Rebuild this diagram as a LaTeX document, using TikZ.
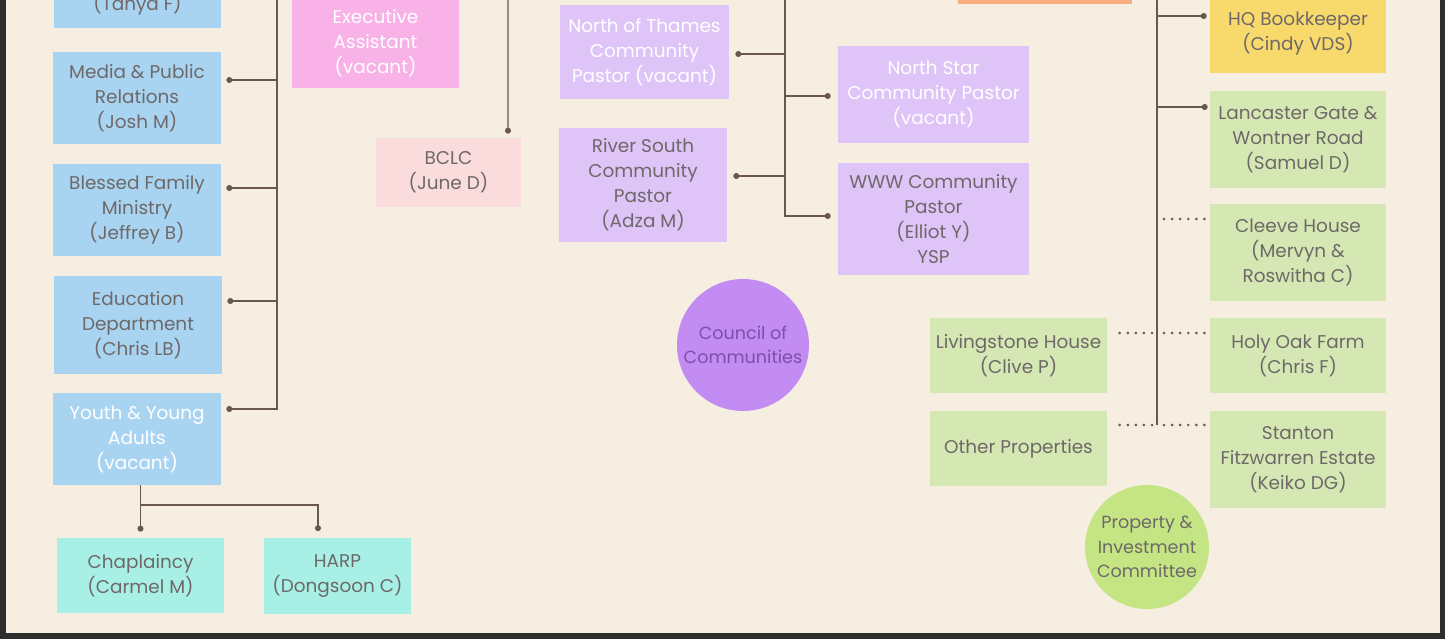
\documentclass[tikz,border=0pt]{standalone}
\usepackage{fontspec}
\setmainfont{Poppins}
\usepackage{xcolor}
\usepackage{tikz}
\usetikzlibrary{arrows.meta,positioning,calc}

\definecolor{cream}{HTML}{F5EEE1}
\definecolor{frame}{HTML}{2E2E2E}
\definecolor{skyblue}{HTML}{A9D4F1}
\definecolor{aqua}{HTML}{A8F0E6}
\definecolor{pinkexec}{HTML}{F8B2E7}
\definecolor{blush}{HTML}{FADCDC}
\definecolor{lavender}{HTML}{DFC4F8}
\definecolor{violet}{HTML}{C38CF2}
\definecolor{peach}{HTML}{F8AE80}
\definecolor{sunny}{HTML}{F8D96C}
\definecolor{sage}{HTML}{D5E8B3}
\definecolor{lime}{HTML}{C5E585}
\definecolor{wirebrown}{HTML}{6A584F}
\definecolor{txtgray}{HTML}{6E6868}
\definecolor{plum}{HTML}{7E4DAA}

\tikzset{
  box/.style={rectangle, inner sep=0pt, align=center, text=txtgray,
    font=\fontsize{10.5}{14.2}\selectfont},
  dept/.style={box, fill=skyblue, minimum width=3.36cm, minimum height=1.84cm},
  care/.style={box, fill=aqua, minimum width=3.34cm, minimum height=1.5cm},
  pastor/.style={box, fill=lavender},
  estate/.style={box, fill=sage, minimum width=3.52cm},
  council/.style={circle, inner sep=0pt, align=center,
    font=\fontsize{10}{14}\selectfont},
  wire/.style={draw=wirebrown, line width=0.8pt, -{Circle[length=3.4pt]}},
  plain/.style={draw=wirebrown, line width=0.8pt},
  dots/.style={draw=wirebrown, line width=1.7pt, line cap=round,
    dash pattern=on 0pt off 4.6pt},
}

\begin{document}
\begin{tikzpicture}[x = 0.02cm, y = -0.02cm]
\useasboundingbox (0,0) rectangle (1445,639);
\fill[frame] (0,0) rectangle (1445,639);
\fill[cream] (6,0) rectangle (1440,633);
\clip (6,0) rectangle (1440,633);

% left column
\node[dept, minimum height=0.96cm] (tanya) at (137.5,4) {(Tanya F)};
\node[dept] (media) at (137,98) {Media \& Public\\Relations\\(Josh M)};
\node[dept] (blessed) at (137,210) {Blessed Family\\Ministry\\(Jeffrey B)};
\node[dept, minimum height=1.96cm] (education) at (138,325) {Education\\Department\\(Chris LB)};
\node[dept, text=white] (youth) at (137,439) {Youth \& Young\\Adults\\(vacant)};
\node[care] (chap) at (140.5,575.5) {Chaplaincy\\(Carmel M)};
\node[care, minimum width=2.94cm, minimum height=1.54cm] (harp) at (337.5,576) {HARP\\(Dongsoon C)};

% office
\node[box, fill=pinkexec, minimum width=3.34cm, minimum height=1.8cm, text=white] (exec) at (375.5,43) {Executive\\Assistant\\(vacant)};
\node[box, fill=blush, minimum width=2.9cm, minimum height=1.38cm] (bclc) at (448.5,172.5) {BCLC\\(June D)};
\node[box, fill=peach, minimum width=3.48cm, minimum height=0.88cm] (office) at (1045,-18) {};

% communities
\node[pastor, minimum width=3.38cm, minimum height=1.88cm, text=white] (nothames) at (644.5,52) {North of Thames\\Community\\Pastor (vacant)};
\node[pastor, minimum width=3.36cm, minimum height=2.28cm] (riversouth) at (643,185) {River South\\Community\\Pastor\\(Adza M)};
\node[pastor, minimum width=3.82cm, minimum height=1.94cm, text=white] (northstar) at (933.5,94.5) {North Star\\Community Pastor\\(vacant)};
\node[pastor, minimum width=3.82cm, minimum height=2.24cm] (www) at (933.5,219) {WWW Community\\Pastor\\(Elliot Y)\\YSP};
\node[council, fill=violet, text=plum, minimum size=2.64cm] (council) at (743,345) {Council of\\Communities};

% properties
\node[box, fill=sunny, minimum width=3.52cm, minimum height=1.56cm] (hq) at (1298,34) {HQ Bookkeeper\\(Cindy VDS)};
\node[estate, minimum height=1.94cm] (lancaster) at (1298,139.5) {Lancaster Gate \&\\Wontner Road\\(Samuel D)};
\node[estate, minimum height=1.94cm] (cleeve) at (1298,252.5) {Cleeve House\\(Mervyn \&\\Roswitha C)};
\node[estate, minimum height=1.5cm] (holyoak) at (1298,355.5) {Holy Oak Farm\\(Chris F)};
\node[estate, minimum width=3.54cm, minimum height=1.5cm] (livingstone) at (1018.5,355.5) {Livingstone House\\(Clive P)};
\node[estate, minimum width=3.54cm, minimum height=1.5cm] (other) at (1018.5,448.5) {Other Properties};
\node[estate, minimum height=1.94cm] (stanton) at (1298,459.5) {Stanton\\Fitzwarren Estate\\(Keiko DG)};
\node[council, fill=lime, text=txtgray, minimum size=2.48cm] (property) at (1147,547) {Property \&\\Investment\\Committee};

% links, left column
\coordinate (ltop) at (277,-5);
\path ([shift={(5,-18)}]media.east) coordinate (mediapin)
      ([shift={(5,-22)}]blessed.east) coordinate (blessedpin)
      ([shift={(5,-24)}]education.east) coordinate (educationpin)
      ([shift={(5,-30)}]youth.east) coordinate (youthpin);
\draw[wire] (ltop) |- (youthpin);
\foreach \b in {media, blessed, education}
  \draw[wire] (ltop |- \b pin) -- (\b pin);
\path ([shift={(0,-6)}]chap.north) coordinate (chappin)
      ([shift={(-19.5,-6)}]harp.north) coordinate (harppin);
\draw[wire] (youth.south -| chappin) -- (chappin);
\draw[wire] ($(youth.south -| chappin)!0.42!(chappin)$) -| (harppin);

% links, office
\coordinate (btop) at (508,-5);
\draw[wire] (btop) -- ([shift={(59.5,-4)}]bclc.north);

% links, communities
\coordinate (ctop) at (785,-5);
\path ([shift={(6,2)}]nothames.east) coordinate (nothamespin)
      ([shift={(6,-9)}]riversouth.east) coordinate (riversouthpin)
      ([shift={(-7,1.5)}]northstar.west) coordinate (northstarpin)
      ([shift={(-7,-3)}]www.west) coordinate (wwwpin);
\draw[wire] (ctop) |- (wwwpin);
\foreach \b in {nothames, riversouth, northstar}
  \draw[wire] (ctop |- \b pin) -- (\b pin);

% links, properties
\coordinate (rtop) at (1157,-5);
\path ([shift={(-3,-18)}]hq.west) coordinate (hqpin)
      ([shift={(-2,-32.5)}]lancaster.west) coordinate (lancasterpin)
      ([shift={(-5,-33.5)}]cleeve.west) coordinate (cleevepin)
      ([shift={(-5,-22.5)}]holyoak.west) coordinate (holyoakpin)
      ([shift={(5,-22.5)}]livingstone.east) coordinate (livingstonepin)
      ([shift={(5,-23.5)}]other.east) coordinate (otherpin)
      ([shift={(-5,-34.5)}]stanton.west) coordinate (stantonpin);
\draw[plain] (rtop) -- (rtop |- stantonpin);
\foreach \b in {hq, lancaster}
  \draw[wire] (rtop |- \b pin) -- (\b pin);
\foreach \b in {cleeve, holyoak, stanton}
  \draw[dots] ([xshift=0.14cm]rtop |- \b pin) -- (\b pin);
\foreach \b in {livingstone, other}
  \draw[dots] ([xshift=-0.1cm]rtop |- \b pin) -- (\b pin);
\end{tikzpicture}
\end{document}
